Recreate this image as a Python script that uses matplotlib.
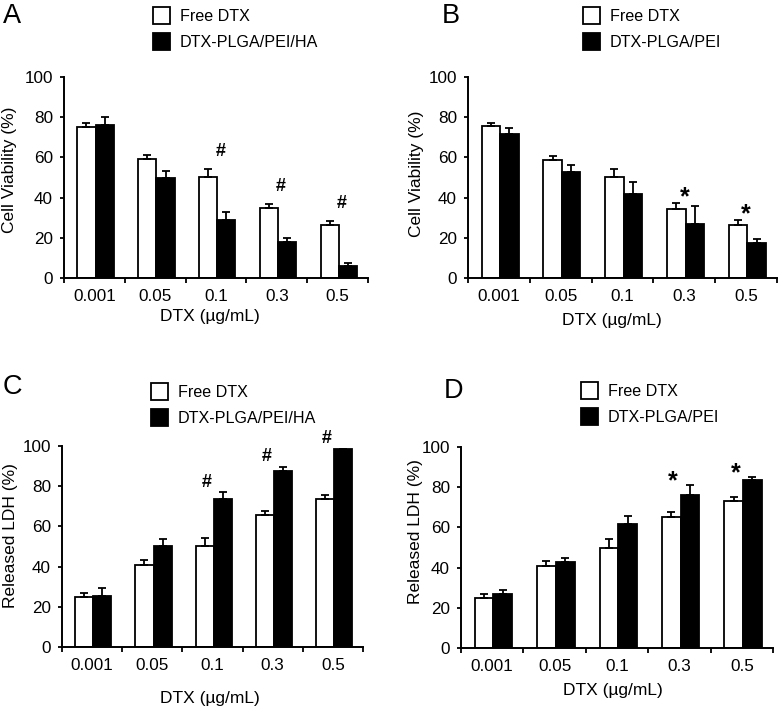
import numpy as np
import matplotlib
matplotlib.use('Agg')
import matplotlib.pyplot as plt

plt.rcParams['font.family'] = ['Liberation Sans', 'DejaVu Sans']

# data
doses = ['0.001', '0.05', '0.1', '0.3', '0.5']

a_free = [75, 59, 50.3, 35, 26.4]
a_free_err = [2, 2, 4, 2, 2.1]
a_np = [76.3, 49.8, 29, 17.8, 6]
a_np_err = [4, 3.3, 3.6, 2, 1.3]

b_free = [75.4, 58.9, 50.4, 34.4, 26.6]
b_free_err = [1.8, 1.8, 3.9, 2.8, 2.1]
b_np = [71.5, 52.5, 41.8, 26.8, 17.6]
b_np_err = [2.9, 3.5, 5.9, 9.1, 1.8]

c_free = [24.9, 41, 50.2, 65.7, 73.6]
c_free_err = [2, 2.4, 4, 2, 2]
c_np = [25.5, 50.2, 73.6, 87.6, 98.3]
c_np_err = [4, 3.4, 3.4, 2.1, 0.3]

d_free = [24.7, 40.8, 50, 65.3, 73.3]
d_free_err = [2.2, 2.6, 4, 2.2, 2]
d_np = [26.7, 43, 61.5, 76, 83.4]
d_np_err = [2.2, 1.6, 4.2, 5.3, 1.8]

W, H = 778, 708
fig = plt.figure(figsize=(W / 100, H / 100), dpi=100)


def px_rect(x0, y0, x1, y1):
    return [x0 / W, 1 - y1 / H, (x1 - x0) / W, (y1 - y0) / H]


panels = [
    dict(letter='A', rect=px_rect(64, 77, 368, 278), free=a_free, free_err=a_free_err,
         np_=a_np, np_err=a_np_err, name='DTX-PLGA/PEI/HA', ylabel='Cell Viability (%)',
         sig=[2, 3, 4], mark='#', mdx=0.57, mdy=8.5, letter_xy=(3, 3), leg_xy=(153, 7),
         ylab=(-0.178, 0.54), xlab=(0.48, -39 / 201)),
    dict(letter='B', rect=px_rect(468, 77, 777, 278), free=b_free, free_err=b_free_err,
         np_=b_np, np_err=b_np_err, name='DTX-PLGA/PEI', ylabel='Cell Viability (%)',
         sig=[3, 4], mark='*', mdx=0.5, mdy=3.0, letter_xy=(442, 3), leg_xy=(583, 7),
         ylab=(-0.168, 0.516), xlab=(0.467, -42 / 201)),
    dict(letter='C', rect=px_rect(62, 446, 363, 647), free=c_free, free_err=c_free_err,
         np_=c_np, np_err=c_np_err, name='DTX-PLGA/PEI/HA', ylabel='Released LDH (%)',
         sig=[2, 3, 4], mark='#', mdx=0.4, mdy=5.0, letter_xy=(3, 374), leg_xy=(151, 383),
         ylab=(-0.172, 0.556), xlab=(0.49, -51 / 201)),
    dict(letter='D', rect=px_rect(461, 447, 773, 648), free=d_free, free_err=d_free_err,
         np_=d_np, np_err=d_np_err, name='DTX-PLGA/PEI', ylabel='Released LDH (%)',
         sig=[3, 4], mark='*', mdx=0.4, mdy=1.5, letter_xy=(444, 378), leg_xy=(581, 382),
         ylab=(-0.145, 0.58), xlab=(0.486, -43 / 201)),
]

x = np.arange(len(doses))
zero = np.zeros(len(doses))
ekw = dict(capsize=3, elinewidth=1.3, capthick=1.3, ecolor='black')

for p in panels:
    ax = fig.add_axes(p['rect'])
    b1 = ax.bar(x + 0.37, p['free'], 0.3, yerr=[zero, p['free_err']], color='white',
                edgecolor='black', linewidth=1.3, error_kw=ekw, label='Free DTX')
    b2 = ax.bar(x + 0.67, p['np_'], 0.3, yerr=[zero, p['np_err']], color='black',
                edgecolor='black', linewidth=1.3, error_kw=ekw, label=p['name'])

    # significance marks above each flagged group
    tops = np.maximum(np.add(p['free'], p['free_err']), np.add(p['np_'], p['np_err']))
    for i in p['sig']:
        ax.text(i + p['mdx'], tops[i] + p['mdy'], p['mark'], ha='center', va='center',
                fontsize=13 if p['mark'] == '#' else 18, fontweight='bold', clip_on=False)

    ax.set_xlim(0, 5)
    ax.set_ylim(0, 100)
    ax.set_yticks(range(0, 101, 20))
    ax.set_xticks(range(6))
    ax.set_xticklabels([])
    ax.set_xticks(x + 0.5, minor=True)
    ax.set_xticklabels(doses, minor=True)
    ax.tick_params(axis='x', which='major', length=3.5, width=1.3, direction='out')
    ax.tick_params(axis='x', which='minor', length=0, labelsize=12.3, pad=8)
    ax.tick_params(axis='y', length=3, width=1.3, direction='out', labelsize=12.3, pad=5)
    for s in ['top', 'right']:
        ax.spines[s].set_visible(False)
    for s in ['left', 'bottom']:
        ax.spines[s].set_linewidth(1.4)

    ax.set_ylabel(p['ylabel'], fontsize=12.5, va='center')
    ax.yaxis.set_label_coords(*p['ylab'])
    ax.set_xlabel('DTX (µg/mL)', fontsize=12.5, va='center')
    ax.xaxis.set_label_coords(*p['xlab'])

    lx, ly = p['leg_xy']
    ax.legend(handles=[b1, b2], loc='upper left', bbox_to_anchor=(lx / W, 1 - ly / H),
              bbox_transform=fig.transFigure, frameon=False, fontsize=11.6,
              handlelength=1.05, handleheight=1.2, labelspacing=0.6,
              handletextpad=0.6, borderpad=0, borderaxespad=0)

    fig.text(p['letter_xy'][0] / W, 1 - p['letter_xy'][1] / H, p['letter'],
             fontsize=19.5, ha='left', va='top')

fig.savefig('out.png', dpi=100)
